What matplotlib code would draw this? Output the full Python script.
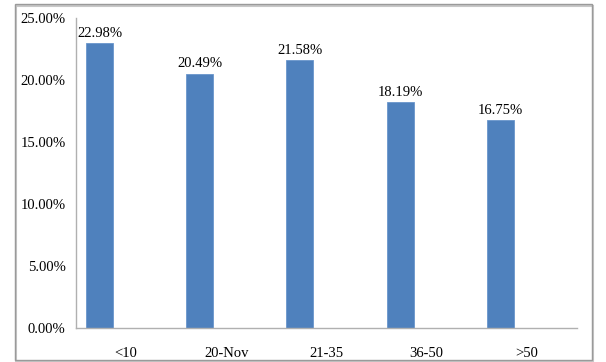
import matplotlib.pyplot as plt
from matplotlib.patches import Rectangle
from matplotlib.ticker import FuncFormatter

categories = ["<10", "20-Nov", "21-35", "36-50", ">50"]
values = [22.98, 20.49, 21.58, 18.19, 16.75]

plt.rcParams['font.family'] = ['Liberation Serif', 'DejaVu Serif']

W, H = 606, 362
fig = plt.figure(figsize=(W / 100, H / 100), dpi=100)

# chart border with a small shadow, Excel style
shadow = Rectangle((16 / W, 1 - 362 / H), 577 / W, 356 / H, transform=fig.transFigure,
                   fill=False, edgecolor="#c8c8c8", linewidth=1.5)
border = Rectangle((14.5 / W, 1 - 360 / H), 577 / W, 356 / H, transform=fig.transFigure,
                   fill=False, edgecolor="#9a9a9a", linewidth=1.0)
fig.patches.extend([shadow, border])

ax = fig.add_axes([76 / W, 1 - 328 / H, 501 / W, 310 / H])

x = range(len(categories))
bars = ax.bar([i + 0.1 for i in x], values, width=0.27, align="edge",
              color="#4f81bd", edgecolor="#6a96cc", linewidth=0.6)

for b, v in zip(bars, values):
    ax.annotate(f"{v:.2f}%", (b.get_x() + b.get_width() / 2, v),
                xytext=(0, 2.5), textcoords="offset points",
                ha="center", va="bottom", fontsize=10.5)

ax.set_xlim(0, 5)
ax.set_ylim(0, 25)
ax.set_xticks([i + 0.5 for i in x])
ax.set_xticklabels(categories)
ax.set_yticks([0, 5, 10, 15, 20, 25])
ax.yaxis.set_major_formatter(FuncFormatter(lambda v, p: f"{v:.2f}%"))

ax.tick_params(axis="both", length=0, labelsize=10.5)
ax.tick_params(axis="y", pad=7.5)
ax.tick_params(axis="x", pad=14)

for s in ["top", "right"]:
    ax.spines[s].set_visible(False)
for s in ["left", "bottom"]:
    ax.spines[s].set_color("#b0b0b0")
    ax.spines[s].set_linewidth(1.0)

fig.savefig("out.png", dpi=100)
